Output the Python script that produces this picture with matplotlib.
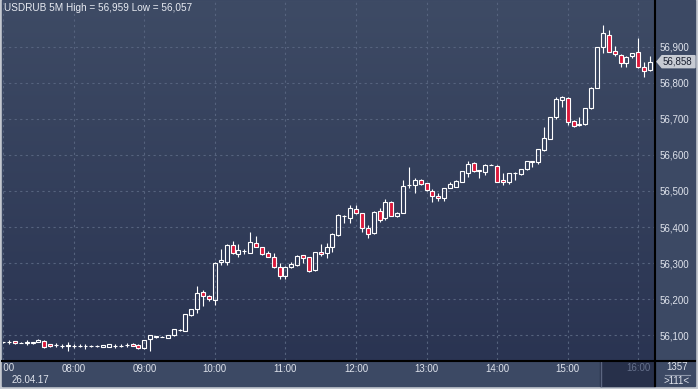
import matplotlib
matplotlib.use('Agg')
import matplotlib.pyplot as plt
import numpy as np
from matplotlib.colors import LinearSegmentedColormap
from matplotlib.patches import Rectangle, Polygon
from matplotlib.lines import Line2D
from matplotlib.transforms import Bbox, TransformedBbox, blended_transform_factory

# USDRUB 5-minute candles, 26.04.17, 07:00 .. 16:10
opens = [56082, 56081, 56084, 56080, 56080, 56078, 56082, 56084, 56075, 56073,
         56072, 56072, 56071, 56071, 56070, 56071, 56070, 56068, 56069, 56072,
         56071, 56073, 56076, 56073, 56064, 56089, 56096, 56097, 56094, 56100,
         56115, 56113, 56157, 56174, 56220, 56209, 56198, 56303, 56304, 56350,
         56325, 56334, 56329, 56355, 56344, 56327, 56316, 56290, 56265, 56290,
         56295, 56323, 56316, 56281, 56330, 56327, 56344, 56378, 56431, 56426,
         56449, 56438, 56397, 56383, 56445, 56426, 56470, 56432, 56440, 56516,
         56517, 56530, 56521, 56500, 56487, 56481, 56509, 56512, 56526, 56551,
         56577, 56557, 56553, 56572, 56569, 56530, 56526, 56549, 56547, 56560,
         56581, 56581, 56614, 56645, 56704, 56752, 56758, 56693, 56682, 56685,
         56729, 56786, 56900, 56933, 56888, 56877, 56855, 56874, 56884, 56844,
         56835]
highs = [56083, 56087, 56085, 56082, 56086, 56080, 56090, 56086, 56076, 56079,
         56076, 56081, 56077, 56075, 56076, 56074, 56073, 56074, 56077, 56077,
         56075, 56079, 56078, 56075, 56088, 56102, 56099, 56099, 56101, 56119,
         56119, 56160, 56172, 56237, 56226, 56213, 56303, 56339, 56352, 56361,
         56353, 56340, 56386, 56374, 56346, 56334, 56327, 56300, 56291, 56302,
         56322, 56324, 56318, 56332, 56353, 56355, 56383, 56436, 56433, 56461,
         56461, 56440, 56405, 56445, 56452, 56477, 56472, 56443, 56530, 56566,
         56535, 56533, 56523, 56505, 56495, 56508, 56524, 56530, 56556, 56583,
         56579, 56558, 56575, 56576, 56571, 56551, 56551, 56553, 56561, 56584,
         56582, 56616, 56678, 56706, 56760, 56764, 56760, 56696, 56704, 56731,
         56787, 56899, 56959, 56946, 56902, 56879, 56874, 56883, 56923, 56858,
         56874]
lows = [56080, 56075, 56077, 56079, 56074, 56076, 56081, 56066, 56069, 56067,
        56066, 56058, 56064, 56067, 56062, 56068, 56067, 56067, 56068, 56066,
        56067, 56067, 56070, 56062, 56063, 56057, 56094, 56095, 56093, 56099,
        56112, 56111, 56155, 56162, 56181, 56194, 56183, 56294, 56296, 56325,
        56316, 56325, 56327, 56344, 56323, 56316, 56288, 56256, 56256, 56286,
        56293, 56301, 56277, 56279, 56320, 56315, 56332, 56374, 56412, 56412,
        56437, 56387, 56371, 56380, 56415, 56420, 56430, 56429, 56438, 56508,
        56494, 56516, 56501, 56470, 56472, 56473, 56507, 56510, 56524, 56540,
        56553, 56535, 56545, 56571, 56524, 56517, 56520, 56530, 56545, 56557,
        56566, 56574, 56611, 56643, 56698, 56733, 56683, 56678, 56680, 56683,
        56726, 56784, 56881, 56884, 56875, 56844, 56844, 56868, 56841, 56815,
        56833]
closes = [56082, 56082, 56079, 56080, 56081, 56081, 56088, 56069, 56071, 56074,
          56072, 56073, 56071, 56072, 56071, 56070, 56071, 56073, 56076, 56072,
          56072, 56074, 56072, 56064, 56087, 56100, 56098, 56097, 56100, 56117,
          56115, 56159, 56172, 56217, 56209, 56200, 56300, 56309, 56350, 56327,
          56336, 56335, 56358, 56346, 56325, 56318, 56290, 56265, 56289, 56297,
          56320, 56314, 56279, 56330, 56325, 56344, 56381, 56433, 56430, 56452,
          56440, 56397, 56381, 56442, 56420, 56470, 56432, 56440, 56514, 56517,
          56530, 56518, 56503, 56487, 56481, 56507, 56519, 56528, 56554, 56575,
          56555, 56556, 56572, 56573, 56526, 56524, 56549, 56549, 56560, 56583,
          56582, 56615, 56646, 56704, 56754, 56761, 56692, 56680, 56686, 56729,
          56785, 56898, 56937, 56886, 56879, 56855, 56872, 56881, 56842, 56833,
          56858]

hour_pos = [12, 24, 36, 48, 60, 72, 84, 96]
hour_labels = ['08:00', '09:00', '10:00', '11:00', '12:00', '13:00', '14:00', '15:00']
price_ticks = [56100, 56200, 56300, 56400, 56500, 56600, 56700, 56800, 56900]
last_price = 56858

W, H = 698, 389
fig = plt.figure(figsize=(W / 100, H / 100), dpi=100, facecolor='#c4c8d0')
font = ['Liberation Sans', 'DejaVu Sans']
txt_col = '#dfe3ec'


def fx(px):
    return px / W


def fy(py):
    return 1 - py / H


# panel behind the axes (right price scale and bottom time scale)
fig.add_artist(Rectangle((fx(2), fy(386)), fx(695) - fx(2), fy(0) - fy(386),
                         transform=fig.transFigure, color='#3c4964', zorder=0))
# darker block under the last hour in the time scale
fig.add_artist(Rectangle((fx(600), fy(386)), fx(655) - fx(600), fy(361) - fy(386),
                         transform=fig.transFigure, color='#27304a', zorder=1))
fig.add_artist(Line2D([fx(600.5), fx(600.5)], [fy(361), fy(386)], transform=fig.transFigure,
                      color='#5b6580', lw=1, zorder=2))

ax = fig.add_axes([fx(3), fy(360), fx(655) - fx(3), fy(1) - fy(360)])
ax.set_zorder(3)

# vertical gradient background
cmap = LinearSegmentedColormap.from_list('bg', ['#3e4b65', '#2a3452'])
ax.imshow(np.linspace(0, 1, 256).reshape(-1, 1), cmap=cmap, extent=(0, 1, 0, 1),
          transform=ax.transAxes, aspect='auto', zorder=0)

o = np.array(opens)
h = np.array(highs)
l = np.array(lows)
c = np.array(closes)
x = np.arange(len(o))
up = c >= o
lo_b = np.minimum(o, c)
hi_b = np.maximum(o, c)

ax.vlines(x, l, lo_b, color='white', lw=0.8, zorder=3)
ax.vlines(x, hi_b, h, color='white', lw=0.8, zorder=3)
ax.bar(x[up], (hi_b - lo_b)[up], bottom=lo_b[up], width=0.68,
       facecolor='none', edgecolor='white', lw=0.8, zorder=4)
ax.bar(x[~up], (hi_b - lo_b)[~up], bottom=lo_b[~up], width=0.68,
       facecolor='#dc1a3c', edgecolor='white', lw=0.8, zorder=4)

ax.set_xlim(-0.03, 110.85)
ax.set_ylim(56032, 57026)

# grid
for yv in price_ticks:
    ax.axhline(yv, color='#56637e', lw=0.8, ls=(0, (2, 3)), zorder=1)
for xv in [0] + hour_pos + [108]:
    ax.axvline(xv, color='#56637e', lw=0.8, ls=(0, (2, 3)), zorder=1)

ax.set_xticks(hour_pos, hour_labels)
ax.set_yticks(price_ticks, ['{:,}'.format(p) for p in price_ticks])
ax.yaxis.tick_right()
ax.tick_params(axis='both', length=0, labelsize=7, labelcolor=txt_col)
ax.tick_params(axis='x', pad=3)
ax.tick_params(axis='y', pad=3.5)
for t in ax.get_xticklabels() + ax.get_yticklabels():
    t.set_family(font)

for s in ['top', 'left', 'right', 'bottom']:
    ax.spines[s].set_visible(False)

# black separators
fig.add_artist(Line2D([fx(2), fx(695)], [fy(360.5), fy(360.5)], transform=fig.transFigure,
                      color='black', lw=1.5, zorder=5))
fig.add_artist(Line2D([fx(655), fx(655)], [fy(0), fy(386)], transform=fig.transFigure,
                      color='black', lw=1.5, zorder=5))

# clipped first hour label and dim last hour label
bt = blended_transform_factory(ax.transData, fig.transFigure)
t07 = ax.text(0, fy(368), '07:00', transform=bt, ha='center', va='center',
              fontsize=7, color=txt_col, family=font, clip_on=True)
t07.set_clip_box(TransformedBbox(Bbox([[fx(3), 0], [1, 1]]), fig.transFigure))
ax.text(108, fy(368), '16:00', transform=bt, ha='center', va='center',
        fontsize=7, color='#66718c', family=font, clip_on=False, zorder=6)
fig.text(fx(12), fy(380), '26.04.17', ha='left', va='center', fontsize=7,
         color=txt_col, family=font)

# title
fig.text(fx(4), fy(8), 'USDRUB 5M High = 56,959 Low = 56,057', ha='left', va='center',
         fontsize=7.2, color='#e8ebf2', family=font, zorder=6)

# last price marker
yl = ax.transData.transform((0, last_price))[1]
yl_px = H - yl
fig.add_artist(Polygon([(fx(657), fy(yl_px)), (fx(662), fy(yl_px - 6)), (fx(695), fy(yl_px - 6)),
                        (fx(695), fy(yl_px + 6)), (fx(662), fy(yl_px + 6))],
                       closed=True, transform=fig.transFigure, color='#c7cbd3', zorder=6))
fig.text(fx(663), fy(yl_px), '{:,}'.format(last_price), ha='left', va='center',
         fontsize=7, color='#1a2030', family=font, zorder=7)

# bar counter in the corner
fig.text(fx(677), fy(367.5), '1357', ha='center', va='center', fontsize=7,
         color=txt_col, family=font, zorder=6)
fig.add_artist(Line2D([fx(665), fx(690)], [fy(374.5), fy(374.5)], transform=fig.transFigure,
                      color='#8e97aa', lw=0.8, zorder=6))
fig.text(fx(677), fy(381), '>111<', ha='center', va='center', fontsize=7,
         color=txt_col, family=font, zorder=6)

fig.savefig('out.png', dpi=100, facecolor=fig.get_facecolor())
